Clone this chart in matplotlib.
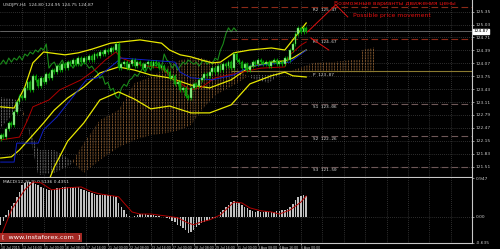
import numpy as np
import matplotlib
matplotlib.use("Agg")
import matplotlib.pyplot as plt
from matplotlib.transforms import blended_transform_factory

# ---------------- data ----------------
first_open = 122.20
closes = [122.30, 122.25, 122.45, 122.60, 122.55, 122.85, 123.10, 123.25, 123.20, 123.45,
          123.60, 123.40, 123.75, 123.65, 123.50, 123.70, 123.60, 123.80, 123.70, 123.90,
          123.85, 124.00, 123.90, 124.05, 123.95, 124.10, 124.05, 124.15, 124.05, 124.20,
          124.10, 124.20, 124.15, 124.25, 124.15, 124.30, 124.25, 124.35, 124.30, 124.40,
          124.35, 124.45, 124.40, 124.55, 123.95, 124.05, 124.10, 123.95, 124.05, 124.15,
          124.00, 124.10, 124.05, 123.95, 124.05, 124.10, 124.00, 124.10, 124.05, 123.95,
          124.00, 123.90, 123.85, 123.70, 123.75, 123.55, 123.60, 123.40, 123.45, 123.25,
          123.20, 123.45, 123.55, 123.50, 123.65, 123.70, 123.80, 123.75, 123.85, 123.95,
          123.85, 124.00, 123.90, 124.05, 124.00, 124.10, 123.95, 124.30, 124.15, 124.10,
          123.95, 124.05, 123.90, 124.00, 124.10, 124.05, 124.15, 124.10, 124.05, 124.10,
          124.00, 124.10, 124.15, 124.05, 124.10, 124.05, 124.20, 124.15, 124.40, 124.55,
          124.80, 124.95, 124.85, 124.95, 124.87]

# Bollinger bands (bar index, price)
bb_up_bars = [0, 5, 9, 12, 16, 24, 29, 34, 41, 52, 60, 63, 67, 71, 75, 79, 82, 87, 93, 101, 106, 109, 114]
bb_up = [122.99, 122.96, 123.48, 124.08, 124.35, 124.28, 124.33, 124.42, 124.57, 124.65, 124.57, 124.40,
         124.28, 124.23, 124.15, 124.08, 124.10, 124.33, 124.40, 124.45, 124.40, 124.65, 125.07]
bb_mid_bars = [0, 4, 7, 12, 16, 20, 25, 31, 37, 44, 50, 56, 63, 71, 78, 86, 93, 101, 106, 109, 114]
bb_mid = [121.72, 121.75, 121.92, 122.29, 122.59, 122.91, 123.21, 123.48, 123.83, 123.98, 123.90, 123.78,
          123.71, 123.53, 123.46, 123.66, 123.98, 124.10, 124.13, 124.20, 124.40]
bb_low = [120.46, 120.53, 120.61, 120.51, 120.83, 121.50, 122.14, 122.59, 123.16, 123.36, 123.18, 122.94,
          123.01, 122.84, 122.84, 123.04, 123.56, 123.76, 123.85, 123.76, 123.73]

# Ichimoku
tenkan_bars = [0, 7, 10, 12, 18, 22, 30, 35, 39, 43, 45, 52, 60, 65, 71, 75, 80, 90, 97, 106, 108, 112, 114]
tenkan = [122.17, 122.24, 122.66, 122.99, 123.16, 123.41, 123.66, 123.90, 124.15, 124.35, 124.20, 124.03,
          123.95, 123.66, 123.41, 123.48, 123.71, 123.85, 123.95, 123.98, 124.28, 124.52, 124.60]
kijun_bars = [0, 5, 6, 14, 16, 21, 26, 32, 36, 41, 45, 55, 65, 67, 71, 79, 87, 93, 108, 114]
kijun = [121.62, 121.62, 122.09, 122.09, 122.42, 122.74, 123.16, 123.66, 123.71, 123.98, 124.20, 124.15,
         124.10, 123.85, 123.71, 123.66, 123.78, 124.00, 124.10, 124.40]
cloud_bars = [0, 6, 9, 14, 20, 26, 31, 37, 44, 50, 56, 62, 67, 71, 75, 80, 87, 93, 100, 104, 109, 117,
              124, 131, 134, 135, 140]
span_a = [122.47, 122.91, 122.86, 121.30, 121.35, 121.55, 122.09, 122.66, 122.91, 123.58, 123.73, 123.98,
          124.15, 124.20, 124.20, 124.10, 123.98, 123.71, 123.58, 123.78, 123.90, 124.08, 124.10, 124.15,
          124.15, 124.40, 124.47]
span_b = [123.23, 123.16, 122.71, 121.92, 121.92, 121.67, 121.35, 121.67, 121.99, 122.17, 122.29, 122.34,
          122.42, 122.54, 122.91, 123.28, 123.53, 123.78, 123.78, 123.85, 123.85, 123.85, 123.85, 123.85,
          123.85, 123.85, 123.85]
chikou_shift = 26

# MACD
macd_hist = [-0.19, -0.10, 0.05, 0.17, 0.26, 0.34, 0.48, 0.60, 0.77, 0.82, 0.85, 0.86, 0.85, 0.81, 0.77,
             0.73, 0.70, 0.67, 0.65, 0.66, 0.68, 0.70, 0.71, 0.72, 0.73, 0.73, 0.72, 0.73, 0.72, 0.72,
             0.69, 0.65, 0.62, 0.60, 0.58, 0.55, 0.53, 0.53, 0.53, 0.54, 0.53, 0.53, 0.51, 0.48, 0.34,
             0.24, 0.17, 0.08, 0.03, 0.01, 0.03, 0.05, 0.07, 0.07, 0.06, 0.05, 0.05, 0.04, 0.03, 0.02,
             0.01, 0.00, -0.03, -0.05, -0.09, -0.12, -0.19, -0.23, -0.27, -0.33, -0.39, -0.36, -0.31,
             -0.25, -0.19, -0.15, -0.12, -0.09, -0.07, -0.05, -0.02, 0.01, 0.12, 0.18, 0.24, 0.30, 0.36,
             0.38, 0.36, 0.33, 0.29, 0.25, 0.22, 0.17, 0.15, 0.13, 0.14, 0.12, 0.13, 0.14, 0.12, 0.13,
             0.12, 0.14, 0.15, 0.16, 0.17, 0.20, 0.24, 0.32, 0.41, 0.48, 0.52, 0.53, 0.51]
signal_bars = [0, 4, 9, 12, 15, 19, 25, 30, 34, 37, 44, 46, 49, 52, 56, 62, 66, 70, 72, 75, 78, 82, 87,
               90, 93, 97, 101, 104, 108, 112, 114]
signal = [-0.49, 0.17, 0.66, 0.85, 0.83, 0.66, 0.71, 0.73, 0.61, 0.56, 0.49, 0.34, 0.12, 0.07, 0.07, 0.02,
          -0.02, -0.15, -0.19, -0.12, -0.07, 0.05, 0.36, 0.34, 0.22, 0.15, 0.12, 0.07, 0.17, 0.36, 0.51]

# Pivot levels
level_names = ["R2", "R1", "P", "S1", "S2", "S3"]
level_values = [125.47, 124.67, 123.87, 123.06, 122.26, 121.50]
level_start_bar = 86

price_ticks = [125.35, 125.03, 124.71, 124.39, 124.07, 123.75, 123.43, 123.11, 122.79, 122.47, 122.15,
               121.83, 121.51]
current_price = 124.87

date_labels = ["10 Jul 2015", "13 Jul 16:00", "15 Jul 00:00", "16 Jul 08:00", "17 Jul 16:00",
               "21 Jul 00:00", "22 Jul 08:00", "23 Jul 16:00", "27 Jul 00:00", "28 Jul 08:00",
               "29 Jul 16:00", "31 Jul 00:00", "3 Aug 08:00", "4 Aug 16:00", "6 Aug 00:00"]
date_label_bars = [0, 8, 16, 24, 32, 40, 48, 56, 64, 72, 80, 88, 96, 104, 112]

# forecast paths (bar, price)
forecast_up = [(114.5, 124.85), (125, 125.52), (129.5, 125.22)]
forecast_dn = [(115.7, 124.70), (122.4, 124.40)]

# ---------------- figure ----------------
BG = "black"
plt.rcParams["hatch.linewidth"] = 0.5
fig = plt.figure(figsize=(5, 2.49), dpi=100, facecolor=BG)
ax = fig.add_axes([0, 0.2892, 0.944, 0.7108], facecolor=BG)
ax2 = fig.add_axes([0, 0.0241, 0.944, 0.2610], facecolor=BG)

XMIN, XMAX = -0.26, 175.86
for a in (ax, ax2):
    a.set_xlim(XMIN, XMAX)
    for s in ("top", "left"):
        a.spines[s].set_visible(False)
    a.spines["right"].set_color("#c8c8c8")
    a.spines["bottom"].set_color("#c8c8c8")
    a.spines["right"].set_linewidth(0.8)
    a.spines["bottom"].set_linewidth(0.8)
ax.set_ylim(121.25, 125.64)
ax2.set_ylim(-0.635, 0.947)

grid_kw = dict(color="#5a5a5a", lw=0.5, linestyle=(0, (1, 2)), zorder=0)
vbars = np.arange(8, 176, 8)
for a in (ax, ax2):
    for b in vbars:
        a.axvline(b, **grid_kw)
for p in price_ticks:
    ax.axhline(p, **grid_kw)
ax2.axhline(0.0, **grid_kw)

# cloud: vertical hatch broken into dots by a black horizontal hatch
ca = np.array(span_a)
cb = np.array(span_b)
for mask, col in ((ca >= cb, "#a8703a"), (ca < cb, "#8c8c8c")):
    ax.fill_between(cloud_bars, ca, cb, where=mask, interpolate=True, facecolor="none",
                    edgecolor=col, hatch="||||||", linewidth=0, zorder=1)
ax.fill_between(cloud_bars, ca, cb, interpolate=True, facecolor="none",
                edgecolor="black", hatch="------", linewidth=0, zorder=1.1)

# Bollinger
ax.plot(bb_up_bars, bb_up, color="#e8e800", lw=0.9, zorder=3)
ax.plot(bb_mid_bars, bb_mid, color="#e8e800", lw=0.9, zorder=3)
ax.plot(bb_mid_bars, bb_low, color="#e8e800", lw=0.9, zorder=3)

# Ichimoku lines
ax.plot(tenkan_bars, tenkan, color="#b00000", lw=0.7, zorder=3)
ax.plot(kijun_bars, kijun, color="#1020c8", lw=0.7, zorder=3)
ch_x = np.arange(len(closes) - chikou_shift)
ax.plot(ch_x, closes[chikou_shift:], color="#1a8a1a", lw=0.8, zorder=2)

# candles
opens = [first_open] + closes[:-1]
wick = 0.05
for i, (o, c) in enumerate(zip(opens, closes)):
    hi = max(o, c) + wick
    lo = min(o, c) - wick
    ax.vlines(i, lo, hi, color="#00c000", lw=0.5, zorder=4)
    bull = c >= o
    ax.bar(i, abs(c - o) if abs(c - o) > 0.01 else 0.01, bottom=min(o, c), width=0.7,
           color="#a8f0a0" if bull else "#109010", edgecolor="#00c000", lw=0.3, zorder=5)

# levels
lev_colors = ["#8c2a18", "#8c2a18", "#8a7a30", "#6e5858", "#6e5858", "#6e5858"]
for name, val, col in zip(level_names, level_values, lev_colors):
    ls = "-" if name == "P" else (0, (6, 3))
    ax.hlines(val, level_start_bar, XMAX, color=col, lw=0.8, linestyle=ls, zorder=2)
    ax.text(116.5, val - 0.03, f"{name} {val:.2f}", color="#d8d8d8", fontsize=3.2,
            family="DejaVu Sans Mono", va="top", ha="left", zorder=6)

# current price
ax.axhline(current_price, color="#8a8a8a", lw=0.5, zorder=2)
tr = blended_transform_factory(ax.transAxes, ax.transData)
ax.text(1.003, current_price, f"{current_price:.2f}", transform=tr, fontsize=3.2, color="black",
        va="center", ha="left", zorder=9,
        bbox=dict(boxstyle="square,pad=0.12", fc="white", ec="white"))

# forecast
fx, fy = zip(*forecast_up)
ax.plot(fx, fy, color="#e01010", lw=0.7, zorder=6)
fx, fy = zip(*forecast_dn)
ax.plot(fx, fy, color="#e01010", lw=0.7, zorder=6)
ax.text(124.2, 125.56, "Возможные варианты движения цены", color="#e01010", fontsize=4.35,
        va="center", ha="left", zorder=7)
ax.text(131.3, 125.26, "Possible price movement", color="#e01010", fontsize=4.4,
        va="center", ha="left", zorder=7)

# title
ax.text(0.006, 0.985, "USDJPY,H4  124.80 124.95 124.75 124.87", transform=ax.transAxes,
        color="#d8d8d8", fontsize=3.2, va="top", ha="left")

# axis ticks
ax.set_yticks(price_ticks)
ax.set_yticklabels([f"{p:.2f}" for p in price_ticks])
for a in (ax, ax2):
    a.tick_params(axis="y", right=True, left=False, labelright=True, labelleft=False, length=1.5,
                  width=0.5, colors="#c8c8c8", labelsize=3.2, pad=1)
ax.tick_params(axis="x", bottom=False, labelbottom=False)

# MACD panel
hb = np.arange(len(macd_hist))
ax2.bar(hb, macd_hist, width=0.55, color="#c0c0c0", zorder=3)
ax2.plot(signal_bars, signal, color="#b00000", lw=0.7, zorder=4)
ax2.set_yticks([0.947, 0.0, -0.635])
ax2.set_yticklabels(["0.947", "0.00", "-0.635"])
ax2.text(0.006, 0.97, "MACD(12,26,9) 0.5136 0.4351", transform=ax2.transAxes, color="#d8d8d8",
         fontsize=3.2, va="top", ha="left")
ax2.set_xticks(date_label_bars)
ax2.set_xticklabels(date_labels, ha="left", family="Liberation Sans")
ax2.tick_params(axis="x", length=1.5, width=0.5, colors="#c8c8c8", labelsize=2.6, pad=0.5)

# watermark
ax2.text(0.004, 0.05, "[  www.instaforex.com  ]", transform=ax2.transAxes, color="white",
         fontsize=4.6, va="bottom", ha="left", zorder=8,
         bbox=dict(boxstyle="square,pad=0.3", fc="#c0302a", ec="none", alpha=0.85))

fig.savefig("out.png", dpi=100, facecolor=BG)
